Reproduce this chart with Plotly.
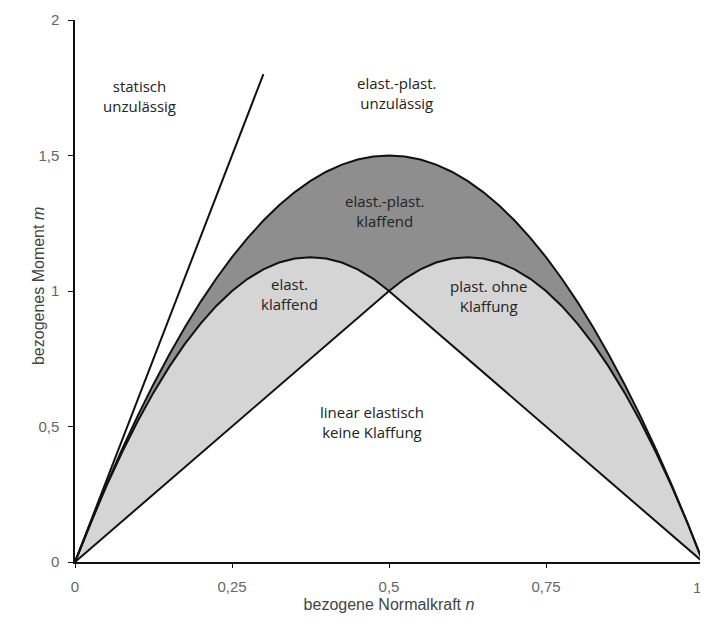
import plotly.graph_objects as go

# normal force grid (full range) and plastic limit curve m = f(n)
n_full = [0, 0.025, 0.05, 0.075, 0.1, 0.125, 0.15, 0.175, 0.2, 0.225, 0.25,
          0.275, 0.3, 0.325, 0.35, 0.375, 0.4, 0.425, 0.45, 0.475, 0.5,
          0.525, 0.55, 0.575, 0.6, 0.625, 0.65, 0.675, 0.7, 0.725, 0.75,
          0.775, 0.8, 0.825, 0.85, 0.875, 0.9, 0.925, 0.95, 0.975, 1.0]
m_plastic = [0, 0.14625, 0.285, 0.41625, 0.54, 0.65625, 0.765, 0.86625, 0.96, 1.04625, 1.125,
             1.19625, 1.26, 1.31625, 1.365, 1.40625, 1.44, 1.46625, 1.485, 1.49625, 1.5,
             1.49625, 1.485, 1.46625, 1.44, 1.40625, 1.365, 1.31625, 1.26, 1.19625, 1.125,
             1.04625, 0.96, 0.86625, 0.765, 0.65625, 0.54, 0.41625, 0.285, 0.14625, 0]

# elastic with gap (left half)
n_left = [0, 0.025, 0.05, 0.075, 0.1, 0.125, 0.15, 0.175, 0.2, 0.225, 0.25,
          0.275, 0.3, 0.325, 0.35, 0.375, 0.4, 0.425, 0.45, 0.475, 0.5]
m_elast_gap = [0, 0.145, 0.28, 0.405, 0.52, 0.625, 0.72, 0.805, 0.88, 0.945, 1.0,
               1.045, 1.08, 1.105, 1.12, 1.125, 1.12, 1.105, 1.08, 1.045, 1.0]

# plastic without gap (right half)
n_right = [0.5, 0.525, 0.55, 0.575, 0.6, 0.625, 0.65, 0.675, 0.7, 0.725, 0.75,
           0.775, 0.8, 0.825, 0.85, 0.875, 0.9, 0.925, 0.95, 0.975, 1.0]
m_plast_nogap = [1.0, 1.045, 1.08, 1.105, 1.12, 1.125, 1.12, 1.105, 1.08, 1.045, 1.0,
                 0.945, 0.88, 0.805, 0.72, 0.625, 0.52, 0.405, 0.28, 0.145, 0]

# linear elastic triangle
n_lin = [0, 0.5, 1.0]
m_lin = [0, 1.0, 0]

# statically inadmissible boundary
n_stat = [0, 0.3]
m_stat = [0, 1.8]

x_ticks = [0, 0.25, 0.5, 0.75, 1]
x_ticklabels = ["0", "0,25", "0,5", "0,75", "1"]
y_ticks = [0, 0.5, 1, 1.5, 2]
y_ticklabels = ["0", "0,5", "1", "1,5", "2"]

labels = [
    ("statisch<br>unzulässig", 0.103, 1.72),
    ("elast.-plast.<br>unzulässig", 0.513, 1.73),
    ("elast.-plast.<br>klaffend", 0.494, 1.295),
    ("elast.<br>klaffend", 0.342, 0.99),
    ("plast. ohne<br>Klaffung", 0.658, 0.98),
    ("linear elastisch<br>keine Klaffung", 0.473, 0.517),
]

# envelope of the inner curves
n_env = n_left + n_right[1:]
m_env = m_elast_gap + m_plast_nogap[1:]

DARK = "#8e8e8e"
LIGHT = "#d5d5d5"
LINE = "#111111"
TICKFONT = dict(family="Liberation Sans", size=15, color="#666666")

fig = go.Figure()

# dark region: between plastic curve and envelope
fig.add_trace(go.Scatter(
    x=n_full + n_env[::-1], y=m_plastic + m_env[::-1],
    fill="toself", fillcolor=DARK, line=dict(width=0), mode="lines",
    hoverinfo="skip", showlegend=False))

# light region: between envelope and triangle
fig.add_trace(go.Scatter(
    x=n_env + n_lin[::-1], y=m_env + m_lin[::-1],
    fill="toself", fillcolor=LIGHT, line=dict(width=0), mode="lines",
    hoverinfo="skip", showlegend=False))

line_style = dict(color=LINE, width=2)
fig.add_trace(go.Scatter(x=n_full, y=m_plastic, mode="lines", line=line_style, showlegend=False))
fig.add_trace(go.Scatter(x=n_left + [n_lin[2]], y=m_elast_gap + [m_lin[2]], mode="lines",
                         line=line_style, showlegend=False))
fig.add_trace(go.Scatter(x=[n_lin[0]] + n_right, y=[m_lin[0]] + m_plast_nogap, mode="lines",
                         line=line_style, showlegend=False))
fig.add_trace(go.Scatter(x=n_stat, y=m_stat, mode="lines", line=line_style, showlegend=False))

for text, x, y in labels:
    fig.add_annotation(x=x, y=y, text=text, showarrow=False,
                       font=dict(family="Open Sans", size=15, color="#222222"))

# y axis title placed as rotated annotation
fig.add_annotation(xref="paper", yref="paper", x=-0.059, y=0.509,
                   text="bezogenes Moment <i>m</i>", textangle=-90, showarrow=False,
                   xanchor="center", yanchor="middle",
                   font=dict(family="Liberation Sans", size=16, color="#444444"))

# last x tick label, kept inside the visible page
fig.add_annotation(x=1.0, xref="paper", yref="paper", y=-0.047,
                   text=x_ticklabels[-1], showarrow=False,
                   xanchor="right", yanchor="middle", font=TICKFONT)

fig.update_layout(
    width=700, height=605,
    margin=dict(l=67, r=5, t=12, b=51),
    paper_bgcolor="white", plot_bgcolor="white",
    font=dict(family="Open Sans", color="#333333"),
)
fig.update_xaxes(range=[0, 1], tickvals=x_ticks, ticktext=x_ticklabels[:-1] + [""],
                 automargin=False,
                 showgrid=False, zeroline=False, showline=True, linecolor=LINE, linewidth=1.5,
                 ticks="outside", ticklen=4, tickcolor=LINE, ticklabelstandoff=6,
                 tickfont=TICKFONT,
                 title=dict(text="bezogene Normalkraft <i>n</i>", standoff=8,
                            font=dict(family="Liberation Sans", size=16, color="#444444")))
fig.update_yaxes(range=[0, 2], tickvals=y_ticks, ticktext=y_ticklabels, automargin=False,
                 showgrid=False, zeroline=False, showline=True, linecolor=LINE, linewidth=1.5,
                 ticks="outside", ticklen=5, tickcolor=LINE, ticklabelstandoff=6,
                 tickfont=TICKFONT)

fig.write_html("out.html")
